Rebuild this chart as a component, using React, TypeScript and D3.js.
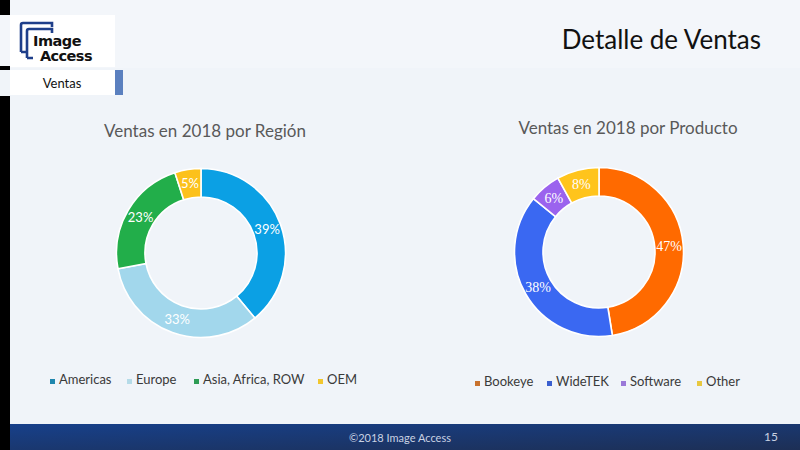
import React from "react";
import * as d3 from "d3";

const regionCategories = ["Americas", "Europe", "Asia, Africa, ROW", "OEM"];
const regionValues = [39, 33, 23, 5];
const regionColors = ["#0ba0e4", "#a2d7ec", "#22ae4a", "#fcc11b"];
const regionLegendColors = ["#1f86ad", "#b5dbe8", "#2e9c55", "#f2c72e"];

const productCategories = ["Bookeye", "WideTEK", "Software", "Other"];
const productValues = [47, 38, 6, 8];
const productColors = ["#ff6a00", "#3a68f2", "#9b63ee", "#ffc41c"];
const productLegendColors = ["#c8722e", "#3a5fcf", "#9a78d8", "#e8c840"];

const FONT = "Lato, 'Open Sans', sans-serif";

function Donut({ cx, cy, values, colors, serifLabels }: { cx: number; cy: number; values: number[]; colors: string[]; serifLabels?: boolean }) {
  const pie = d3.pie<number>().sort(null).value((d) => d);
  const arcs = pie(values);
  const arc = d3.arc<d3.PieArcDatum<number>>().innerRadius(56).outerRadius(84.5);
  return (
    <g transform={`translate(${cx},${cy})`}>
      {arcs.map((a, i) => (
        <path key={i} d={arc(a) || ""} fill={colors[i]} stroke="#ffffff" strokeWidth={1.6} />
      ))}
      {arcs.map((a, i) => {
        const [x, y] = arc.centroid(a);
        return (
          <text key={"l" + i} x={x} y={y} dy="0.35em" textAnchor="middle" fill="#ffffff"
            fontFamily={serifLabels ? "'Liberation Serif', serif" : FONT} fontSize={serifLabels ? 14 : 13}>
            {`${values[i]}%`}
          </text>
        );
      })}
    </g>
  );
}

function Legend({ x0, y, items, colors, xs }: { x0: number; y: number; items: string[]; colors: string[]; xs: number[] }) {
  return (
    <g>
      {items.map((t, i) => (
        <g key={t} transform={`translate(${x0 + xs[i]},${y})`}>
          <rect x={0} y={-5} width={5} height={5} fill={colors[i]} />
          <text x={9} y={0} fontFamily={FONT} fontSize={13} fill="#3a3a3a">{t}</text>
        </g>
      ))}
    </g>
  );
}

export default function App() {
  return (
    <div style={{ position: "absolute", left: 0, top: 0 }}>
      <svg width={800} height={450} style={{ display: "block" }}>
        <defs>
          <linearGradient id="foot" x1="0" y1="0" x2="1" y2="1">
            <stop offset="0%" stopColor="#17408a" />
            <stop offset="100%" stopColor="#1d2f55" />
          </linearGradient>
        </defs>
        <rect x={0} y={0} width={800} height={450} fill="#f0f4f9" />
        <rect x={0} y={0} width={800} height={68} fill="#f3f6fa" />
        <rect x={0} y={0} width={10} height={15} fill="#000" />
        <rect x={0} y={66} width={10} height={4} fill="#000" />
        <rect x={0} y={96} width={10} height={354} fill="#000" />
        <rect x={10} y={15} width={105} height={52} fill="#ffffff" />
        <path d="M21,52 L21,25 Q21,23 23,23 L52,23 L52,27" fill="none" stroke="#1f3f8a" strokeWidth={2.6} />
        <path d="M27,58 L27,31 Q27,29 29,29 L52,29 L52,33" fill="none" stroke="#1f3f8a" strokeWidth={2.6} />
        <path d="M21,52 L27,52 M27,58 L33,58" fill="none" stroke="#1f3f8a" strokeWidth={2.6} />
        <text x={33} y={46} fontFamily="'DejaVu Sans', sans-serif" fontWeight="bold" fontSize={14.5} letterSpacing={-0.5} fill="#111">Image</text>
        <text x={40} y={61} fontFamily="'DejaVu Sans', sans-serif" fontWeight="bold" fontSize={14.5} letterSpacing={-0.6} fill="#111">Access</text>
        <rect x={10} y={70} width={105} height={25} fill="#ffffff" />
        <rect x={115} y={70} width={8} height={25} fill="#5b80bf" />
        <text x={62} y={88} textAnchor="middle" fontFamily={FONT} fontSize={13} fill="#111">Ventas</text>
        <text x={761} y={49} textAnchor="end" fontFamily={FONT} fontSize={26} fill="#111">Detalle de Ventas</text>
        <text x={205} y={137} textAnchor="middle" fontFamily={FONT} fontSize={17} fill="#595959">Ventas en 2018 por Región</text>
        <text x={628} y={134} textAnchor="middle" fontFamily={FONT} fontSize={17} fill="#595959">Ventas en 2018 por Producto</text>
        <Donut cx={201} cy={253} values={regionValues} colors={regionColors} />
        <Donut cx={599} cy={252} values={productValues} colors={productColors} serifLabels />
        <Legend x0={50} y={384} items={regionCategories} colors={regionLegendColors} xs={[0, 77, 144, 268]} />
        <Legend x0={475} y={386} items={productCategories} colors={productLegendColors} xs={[0, 72, 146, 222]} />
        <rect x={10} y={424} width={790} height={26} fill="url(#foot)" />
        <text x={400} y={442} textAnchor="middle" fontFamily={FONT} fontSize={11} fill="#c9d2e3">©2018 Image Access</text>
        <text x={778} y={441} textAnchor="end" fontFamily={FONT} fontSize={12} fill="#c9d2e3">15</text>
      </svg>
    </div>
  );
}
